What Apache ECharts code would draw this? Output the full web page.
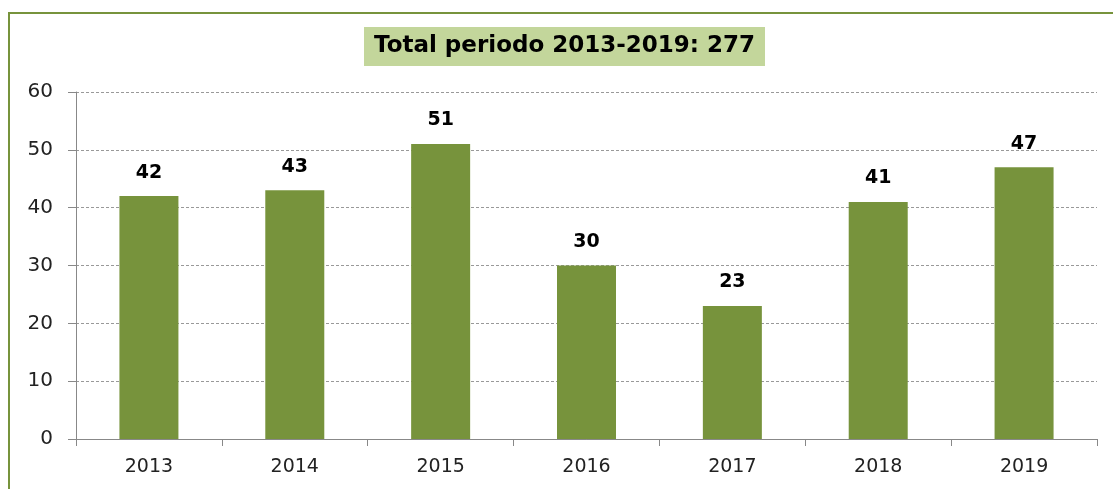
<!DOCTYPE html>
<html lang="it">
<head>
    <meta charset="UTF-8">
    <title>Total periodo 2013-2019</title>
    <script src="https://cdn.jsdelivr.net/npm/echarts@6/dist/echarts.min.js" charset="utf-8"></script>
    <style>
        html, body {margin: 0; padding: 0; background: #fff; overflow: hidden;}
        #wrap {position: relative; width: 1113px; height: 489px;}
        #main {width: 1113px; height: 489px;}
        #frame {
            position: absolute; left: 8px; top: 12px; right: 0; bottom: 0;
            border-top: 2px solid #77933C; border-left: 2px solid #77933C;
            pointer-events: none;
        }
    </style>
</head>
<body>
<div id="wrap">
    <div id="main"></div>
    <div id="frame"></div>
</div>
<script>
    var years = ['2013', '2014', '2015', '2016', '2017', '2018', '2019'];
    var totals = [42, 43, 51, 30, 23, 41, 47];
    var titleText = 'Total periodo 2013-2019: 277';

    var myChart = echarts.init(document.getElementById('main'));
    var option = {
        animation: false,
        title: {
            text: titleText,
            left: 364,
            top: 27,
            padding: [8, 10, 8, 10],
            backgroundColor: '#C3D69B',
            textStyle: {
                fontFamily: 'DejaVu Sans',
                fontSize: 23,
                fontWeight: 'bold',
                color: '#000'
            }
        },
        grid: {
            left: 76,
            right: 16,
            top: 92,
            bottom: 50
        },
        xAxis: [{
            type: 'category',
            data: years,
            axisLine: {lineStyle: {color: '#888', width: 1}},
            axisTick: {show: true, length: 7, alignWithLabel: false, lineStyle: {color: '#888'}},
            axisLabel: {
                margin: 19,
                fontFamily: 'DejaVu Sans',
                fontSize: 19,
                color: '#222'
            }
        }],
        yAxis: [{
            type: 'value',
            min: 0,
            max: 60,
            interval: 10,
            axisLine: {show: true, lineStyle: {color: '#888', width: 1}},
            axisTick: {show: true, length: 8, lineStyle: {color: '#888'}},
            axisLabel: {
                margin: 23,
                fontFamily: 'DejaVu Sans',
                fontSize: 20,
                color: '#222'
            },
            splitLine: {
                lineStyle: {color: '#999', type: [3, 2], width: 1}
            }
        }],
        series: [{
            type: 'bar',
            data: totals,
            barWidth: 59,
            itemStyle: {color: '#77933C'},
            label: {
                show: true,
                position: 'top',
                distance: 14,
                fontFamily: 'DejaVu Sans',
                fontSize: 19,
                fontWeight: 'bold',
                color: '#000'
            }
        }]
    };

    myChart.setOption(option);
    window.addEventListener('resize', function () {
        myChart.resize();
    });
</script>
</body>
</html>
